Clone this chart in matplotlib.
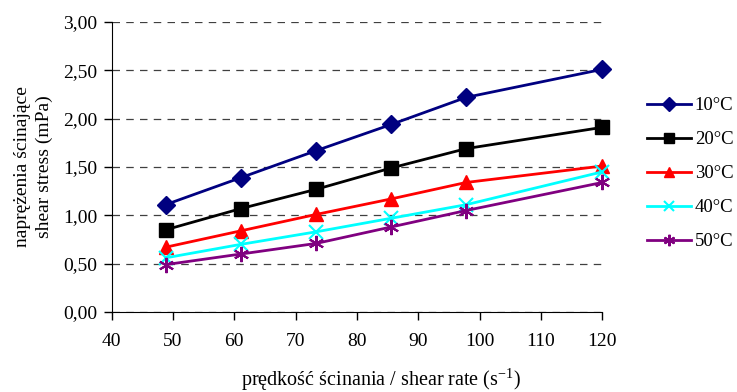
import matplotlib.pyplot as plt
from matplotlib.ticker import FuncFormatter

plt.rcParams['font.family'] = ['Liberation Serif', 'DejaVu Serif']
plt.rcParams['mathtext.fontset'] = 'custom'
plt.rcParams['mathtext.rm'] = 'Liberation Serif'

# dane
shear_rate = [48.8, 61.1, 73.4, 85.6, 97.8, 120.0]
temp_labels = ['10°C', '20°C', '30°C', '40°C', '50°C']
stress_10 = [1.11, 1.39, 1.67, 1.94, 2.22, 2.51]
stress_20 = [0.85, 1.07, 1.27, 1.49, 1.69, 1.91]
stress_30 = [0.67, 0.84, 1.01, 1.17, 1.34, 1.51]
stress_40 = [0.56, 0.70, 0.83, 0.97, 1.11, 1.45]
stress_50 = [0.49, 0.60, 0.71, 0.88, 1.05, 1.34]

series = [stress_10, stress_20, stress_30, stress_40, stress_50]
colors = ['#000080', '#000000', '#ff0000', '#00ffff', '#800080']
markers = ['D', 's', '^', 'x', (6, 2, 0)]
msizes = [9, 9.5, 10, 10, 11]

fig = plt.figure(figsize=(7.37, 3.92), dpi=100)
ax = fig.add_axes([0.1513, 0.204, 0.666, 0.740])

for vals, lab, c, m, ms in zip(series, temp_labels, colors, markers, msizes):
    ax.plot(shear_rate, vals, color=c, marker=m, markersize=ms, linewidth=2,
            markeredgewidth=1.5 if m in ('x', (6, 2, 0)) else 1,
            markeredgecolor=c, label=lab, clip_on=False)

ax.set_xlim(40, 120)
ax.set_ylim(0, 3)
ax.set_xticks(range(40, 121, 10))
ax.set_yticks([0, 0.5, 1.0, 1.5, 2.0, 2.5, 3.0])
ax.yaxis.set_major_formatter(FuncFormatter(lambda v, p: f'{v:.2f}'.replace('.', ',')))
ax.yaxis.grid(True, linestyle=(0, (6, 5)), color='#404040', linewidth=0.9)
ax.set_axisbelow(True)
for s in ['top', 'right']:
    ax.spines[s].set_visible(False)
ax.tick_params(labelsize=14, length=6, width=1, colors='black')
ax.tick_params(axis='x', pad=9)
ax.tick_params(axis='y', pad=4)

ax.set_ylabel('naprężenia ścinające\nshear stress (mPa)', fontsize=14, linespacing=1.3)
ax.yaxis.set_label_coords(-0.12, 0.5)
ax.set_xlabel('prędkość ścinania / shear rate (s$\\mathregular{^{-1}}$)', fontsize=14.5)
ax.xaxis.set_label_coords(0.549, -0.19)

fig.legend(loc='upper left', bbox_to_anchor=(0.878, 0.752), frameon=False,
           fontsize=13.5, handlelength=2.35, labelspacing=0.9, handletextpad=0.2,
           borderpad=0, borderaxespad=0, markerscale=0.75)

fig.savefig('out.png', dpi=100)
